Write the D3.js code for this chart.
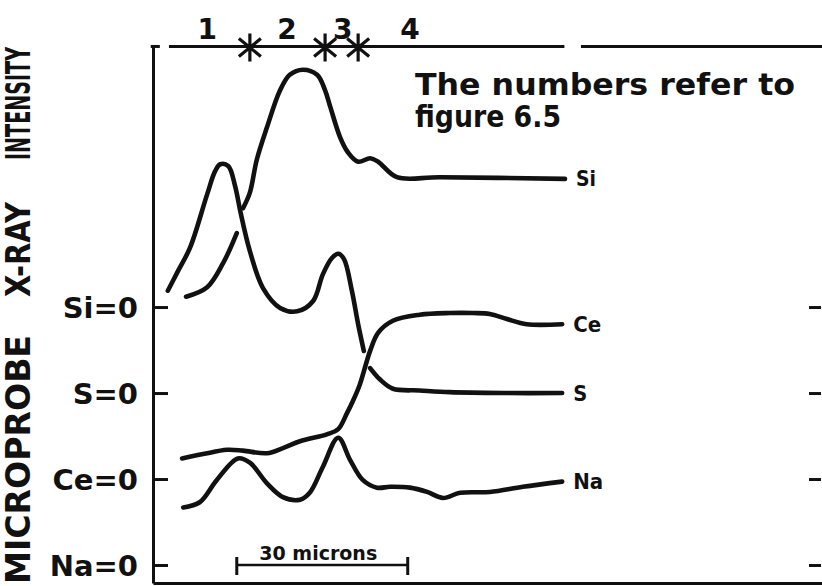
<!DOCTYPE html>
<html>
<head>
<meta charset="utf-8">
<script src="https://cdn.jsdelivr.net/npm/d3@7/dist/d3.min.js"></script>
<style>
  html, body { margin: 0; padding: 0; background: #fff; }
  svg { display: block; }
  text { font-family: "DejaVu Sans", "Liberation Sans", sans-serif; font-weight: bold; fill: #111; }
</style>
</head>
<body>
<svg id="chart" width="822" height="586"></svg>
<script>
// Microprobe traverse: x in microns, intensity in arbitrary units above each element's own zero line.
const elements = ["Si", "S", "Ce", "Na"];
const zeroLevels = [30, 20, 10, 0];          // offset of each element's zero line
const zeroLabels = ["Si=0", "S=0", "Ce=0", "Na=0"];

// [micron, intensity]; null marks a break in the pen line
const siTrace = [
  [5.8, 1.2], [9.5, 2.3], [12.3, 5.1], [14.7, 8.6], [15.2, null],
  [15.8, 11.5], [17.0, 13.3], [18.2, 17.1], [20.0, 20.9], [22.3, 25.2], [24.0, 27.0],
  [26.3, 27.6], [28.8, 27.0], [30.2, 25.2], [31.1, 23.3], [32.8, 19.8], [34.2, 18.0],
  [36.0, 16.9], [38.1, 17.3], [39.5, 16.9], [42.8, 15.1], [50.4, 15.1], [72.3, 14.9]
];
const sTrace = [
  [2.6, 11.9], [4.4, 14.2], [6.5, 16.9], [9.5, 23.1], [10.9, 25.8], [11.8, 26.6],
  [13.2, 26.4], [14.4, 24.1], [15.3, 21.2], [17.0, 16.5], [19.3, 12.2], [22.3, 9.9],
  [25.3, 9.5], [28.1, 10.7], [29.8, 13.8], [31.4, 15.7], [32.5, 16.2], [33.5, 15.6],
  [34.9, 11.9], [36.0, 8.0], [37.0, 4.9], [37.5, null],
  [38.1, 2.9], [39.8, 1.6], [42.1, 0.5], [46.8, 0.3], [52.1, 0.1], [62.1, 0.0], [71.8, 0.0]
];
const ceTrace = [
  [5.1, 2.4], [8.8, 2.9], [13.0, 3.4], [15.8, 3.3], [20.0, 3.0], [22.8, 3.6],
  [25.8, 4.4], [30.5, 5.2], [32.5, 5.8], [34.0, 7.6], [35.1, 9.1], [36.3, 11.0],
  [38.1, 14.9], [39.5, 17.0], [42.1, 18.4], [46.8, 19.1], [52.1, 19.3], [56.1, 19.3],
  [59.1, 19.2], [62.1, 18.6], [65.6, 18.0], [71.8, 18.0]
];
const naTrace = [
  [5.3, 6.7], [8.2, 7.3], [11.2, 9.9], [14.9, 12.4], [17.0, 11.9], [20.0, 9.5],
  [22.8, 7.9], [25.8, 7.6], [27.5, 8.4], [29.8, 11.4], [32.5, 14.8], [34.6, 12.2],
  [36.8, 9.9], [39.3, 9.0], [41.6, 9.1], [45.1, 9.0], [48.1, 8.5], [50.9, 7.8],
  [53.9, 8.4], [59.1, 8.5], [64.9, 9.1], [71.8, 9.7]
];
const traces = [siTrace, sTrace, ceTrace, naTrace];

// zone numbers along the top and the boundaries between them (microns)
const zoneNames = ["1", "2", "3", "4"];
const zoneCentres = [9.5, 23.5, 33.3, 45.1];
const zoneBoundaries = [17.0, 30.2, 36.0];

// scale bar
const scaleBarStart = 14.7;
const scaleBarLength = 30;
const scaleBarText = "30 microns";

const noteLines = ["The numbers refer to", "figure 6.5"];
const axisTitleWords = ["MICROPROBE", "X-RAY", "INTENSITY"];

const svg = d3.select("#chart");
const ink = "#111";

const x = d3.scaleLinear().domain([0, 117.4]).range([153, 822]);
const y = d3.scaleLinear().domain([-2.09, 60.47]).range([583, 45]);

// left axis with inward ticks at each element's zero
const left = svg.append("g")
  .attr("transform", `translate(${x(0)},0)`)
  .call(d3.axisLeft(y).tickValues(zeroLevels).tickSize(-15).tickSizeOuter(0)
    .tickPadding(15).tickFormat((d, i) => zeroLabels[i]));
left.select(".domain").attr("stroke", ink).attr("stroke-width", 3);
left.selectAll(".tick line").attr("stroke", ink).attr("stroke-width", 3);
left.selectAll(".tick text")
  .attr("font-size", 29).attr("font-family", null).attr("fill", ink)
  .attr("dy", "0.36em");

// right-hand ticks
const right = svg.append("g")
  .attr("transform", `translate(${x(117.4) - 1},0)`)
  .call(d3.axisRight(y).tickValues(zeroLevels).tickSize(-12).tickSizeOuter(0).tickFormat(""));
right.select(".domain").remove();
right.selectAll(".tick line").attr("stroke", ink).attr("stroke-width", 3);

// bottom frame line
const bottom = svg.append("g")
  .attr("transform", `translate(0,${y(-2.09)})`)
  .call(d3.axisBottom(x).tickValues([]).tickSizeOuter(0));
bottom.select(".domain").attr("stroke", ink).attr("stroke-width", 3);

// small flag at the top of the left axis
svg.append("line")
  .attr("x1", x(-0.4)).attr("x2", x(1.2))
  .attr("y1", y(60.3)).attr("y2", y(60.3))
  .attr("stroke", ink).attr("stroke-width", 3);

// top line with zone boundaries
const topY = y(60.3);
[[2.8, 72.2], [75.1, 117.4]].forEach(([a, b]) => {
  svg.append("line")
    .attr("x1", x(a)).attr("x2", x(b)).attr("y1", topY).attr("y2", topY)
    .attr("stroke", ink).attr("stroke-width", 3);
});

const starPath = (cx, cy) => {
  const p = d3.path();
  p.moveTo(cx, cy - 14); p.lineTo(cx, cy + 14);
  p.moveTo(cx - 11, cy - 9); p.lineTo(cx + 11, cy + 9);
  p.moveTo(cx + 11, cy - 9); p.lineTo(cx - 11, cy + 9);
  return p.toString();
};
svg.append("g").selectAll("path").data(zoneBoundaries).join("path")
  .attr("d", d => starPath(x(d), topY + 1))
  .attr("fill", "none").attr("stroke", ink).attr("stroke-width", 3.2)
  .attr("stroke-linecap", "butt");

svg.append("g").selectAll("text").data(zoneNames).join("text")
  .attr("x", (d, i) => x(zoneCentres[i]))
  .attr("y", 39)
  .attr("text-anchor", "middle")
  .attr("font-size", 28)
  .text(d => d);

// element traces
const line = d3.line()
  .defined(d => d[1] !== null)
  .x(d => x(d[0]))
  .curve(d3.curveCatmullRom.alpha(0.5));

traces.forEach((t, i) => {
  svg.append("path")
    .datum(t)
    .attr("d", line.y(d => y(zeroLevels[i] + d[1])))
    .attr("fill", "none")
    .attr("stroke", ink)
    .attr("stroke-width", 4.6)
    .attr("stroke-linecap", "round")
    .attr("stroke-linejoin", "round");
});

// element names at the right-hand end of each trace
const nameWidths = { Si: 20, S: 14, Ce: 28, Na: 30 };
svg.append("g").selectAll("text").data(elements).join("text")
  .attr("x", (d, i) => x(traces[i][traces[i].length - 1][0]) + 11)
  .attr("y", (d, i) => y(zeroLevels[i] + traces[i][traces[i].length - 1][1]))
  .attr("dy", "0.36em")
  .attr("font-size", 21)
  .attr("textLength", d => nameWidths[d])
  .attr("lengthAdjust", "spacingAndGlyphs")
  .text(d => d);

// note
svg.append("text").attr("x", 415).attr("y", 95).attr("font-size", 30)
  .attr("textLength", 380).attr("lengthAdjust", "spacingAndGlyphs").text(noteLines[0]);
svg.append("text").attr("x", 415).attr("y", 127).attr("font-size", 30)
  .attr("textLength", 146).attr("lengthAdjust", "spacingAndGlyphs").text(noteLines[1]);

// vertical axis title, one word at a time
const titleSpans = [[335, 584], [202, 297], [47, 160]];
axisTitleWords.forEach((w, i) => {
  const [a, b] = titleSpans[i];
  svg.append("text")
    .attr("transform", `translate(30,${(a + b) / 2}) rotate(-90)`)
    .attr("text-anchor", "middle")
    .attr("font-size", 33)
    .attr("textLength", b - a)
    .attr("lengthAdjust", "spacingAndGlyphs")
    .text(w);
});

// 30 micron scale bar
const barY = y(0);
const bx0 = x(scaleBarStart), bx1 = x(scaleBarStart + scaleBarLength);
svg.append("line").attr("x1", bx0).attr("x2", bx1).attr("y1", barY).attr("y2", barY)
  .attr("stroke", ink).attr("stroke-width", 2.5);
[bx0, bx1].forEach(bx => {
  svg.append("line").attr("x1", bx).attr("x2", bx).attr("y1", barY - 8).attr("y2", barY + 10)
    .attr("stroke", ink).attr("stroke-width", 3);
});
svg.append("text").attr("x", (bx0 + bx1) / 2 - 4).attr("y", barY - 5)
  .attr("text-anchor", "middle").attr("font-size", 20)
  .attr("textLength", 118).attr("lengthAdjust", "spacingAndGlyphs")
  .text(scaleBarText);
</script>
</body>
</html>
